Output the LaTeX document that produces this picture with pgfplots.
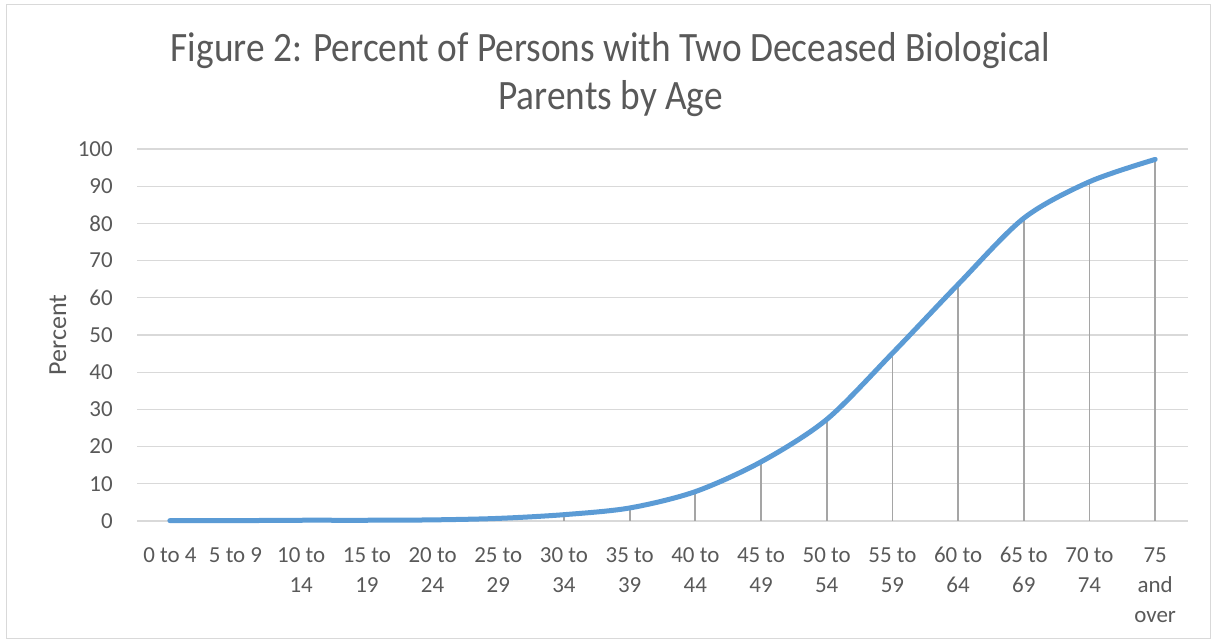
\documentclass[border=0pt]{standalone}
\usepackage{fontspec}
\setmainfont{Carlito}
\usepackage{pgfplots}
\pgfplotsset{compat=1.18}
\definecolor{txtgray}{HTML}{595959}
\definecolor{gridgray}{HTML}{D9D9D9}
\definecolor{dropgray}{HTML}{A5A5A5}
\definecolor{lineblue}{HTML}{5B9BD5}
\begin{document}
\begin{tikzpicture}
\useasboundingbox (0,0) rectangle (909pt,480.75pt);
\draw[gridgray, line width=0.75pt] (4.5pt,1.5pt) rectangle (907.5pt,477pt);
\node[anchor=base, text=txtgray, align=center, font=\fontsize{28}{36}\selectfont] at (457.9pt,398.25pt) {\scalebox{1}[1.12]{Figure 2: Percent of Persons with Two Deceased Biological}\\\scalebox{1}[1.12]{Parents by Age}};
\node[rotate=90, text=txtgray, font=\fontsize{19.5}{22}\selectfont] at (43.5pt,229.5pt) {Percent};
\begin{axis}[
  at={(102.75pt,90pt)}, anchor=south west,
  scale only axis, width=788.25pt, height=279pt,
  xmin=-0.5, xmax=15.5, ymin=0, ymax=100,
  ytick={0,10,...,100},
  xtick={0,...,15},
  xticklabels={\strut 0 to 4,\strut 5 to 9,\strut 10 to\\14,\strut 15 to\\19,\strut 20 to\\24,\strut 25 to\\29,\strut 30 to\\34,\strut 35 to\\39,\strut 40 to\\44,\strut 45 to\\49,\strut 50 to\\54,\strut 55 to\\59,\strut 60 to\\64,\strut 65 to\\69,\strut 70 to\\74,\strut 75\\and\\over},
  /pgf/number format/assume math mode=true,
  ymajorgrids, grid style={color=gridgray, line width=0.9pt},
  axis line style={draw=none},
  major tick length=0pt,
  tick label style={text=txtgray, font=\fontsize{17.2}{22.5}\selectfont},
  yticklabel style={anchor=east, inner sep=0pt, xshift=-18pt},
  xticklabel style={anchor=north, inner sep=0pt, yshift=-15pt, align=center},
  clip=false,
]
\addplot[ycomb, color=dropgray, line width=1.3pt] coordinates {
(0,0.1) (1,0.1) (2,0.2) (3,0.2) (4,0.3) (5,0.7) (6,1.7) (7,3.5) (8,7.9) (9,15.9) (10,27.3) (11,45.1) (12,63.6) (13,81.4) (14,91.2) (15,97.2)};
\addplot[smooth, tension=0.5, color=lineblue, line width=3.75pt, line cap=round, line join=round] coordinates {
(0,0.1) (1,0.1) (2,0.2) (3,0.2) (4,0.3) (5,0.7) (6,1.7) (7,3.5) (8,7.9) (9,15.9) (10,27.3) (11,45.1) (12,63.6) (13,81.4) (14,91.2) (15,97.2)};
\end{axis}
\end{tikzpicture}
\end{document}
